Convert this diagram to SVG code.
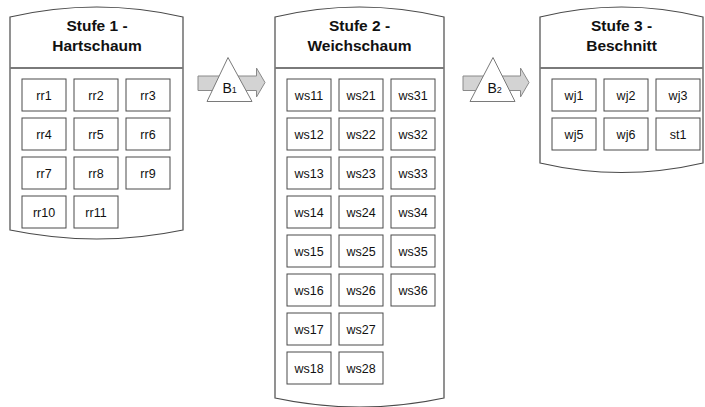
<svg xmlns="http://www.w3.org/2000/svg" width="705" height="407" viewBox="0 0 705 407">
  <defs>
    <style>
      .stage { fill: #ffffff; stroke: #4a4a4a; stroke-width: 1.2; }
      .divider { stroke: #7a7a7a; stroke-width: 2; }
      .title { font-family: "Liberation Sans", Arial, sans-serif; font-size: 15.5px; font-weight: bold; fill: #111; text-anchor: middle; }
      .box rect { fill: #ffffff; stroke: #4a4a4a; stroke-width: 1; }
      .box text { font-family: "Liberation Sans", Arial, sans-serif; font-size: 12.5px; fill: #111; text-anchor: middle; }
      .band { fill: #d3d3d3; stroke: #8a8a8a; stroke-width: 1; }
      .tri { fill: #ffffff; stroke: #7a7a7a; stroke-width: 1; }
      .blabel { font-family: "Liberation Sans", Arial, sans-serif; font-size: 14px; fill: #111; }
    </style>
  </defs>

  <!-- Stage 1 -->
  <g id="stufe1">
    <path class="stage" d="M10,17 Q97,-3 183,17 L183,230 Q97,248 10,230 Z"/>
    <line class="divider" x1="10" y1="68" x2="183" y2="68"/>
    <text class="title" x="97" y="31">Stufe 1 -</text>
    <text class="title" x="97" y="51">Hartschaum</text>
  </g>
  <g id="rr1" class="box"><rect x="22" y="79" width="44" height="32"/><text x="44" y="99.5">rr1</text></g>
  <g id="rr2" class="box"><rect x="74" y="79" width="44" height="32"/><text x="96" y="99.5">rr2</text></g>
  <g id="rr3" class="box"><rect x="126" y="79" width="44" height="32"/><text x="148" y="99.5">rr3</text></g>
  <g id="rr4" class="box"><rect x="22" y="118" width="44" height="32"/><text x="44" y="138.5">rr4</text></g>
  <g id="rr5" class="box"><rect x="74" y="118" width="44" height="32"/><text x="96" y="138.5">rr5</text></g>
  <g id="rr6" class="box"><rect x="126" y="118" width="44" height="32"/><text x="148" y="138.5">rr6</text></g>
  <g id="rr7" class="box"><rect x="22" y="157" width="44" height="32"/><text x="44" y="177.5">rr7</text></g>
  <g id="rr8" class="box"><rect x="74" y="157" width="44" height="32"/><text x="96" y="177.5">rr8</text></g>
  <g id="rr9" class="box"><rect x="126" y="157" width="44" height="32"/><text x="148" y="177.5">rr9</text></g>
  <g id="rr10" class="box"><rect x="22" y="196" width="44" height="32"/><text x="44" y="216.5">rr10</text></g>
  <g id="rr11" class="box"><rect x="74" y="196" width="44" height="32"/><text x="96" y="216.5">rr11</text></g>

  <!-- Stage 2 -->
  <g id="stufe2">
    <path class="stage" d="M275,17 Q359.5,-3 444,17 L444,398 Q359.5,416 275,398 Z"/>
    <line class="divider" x1="275" y1="68" x2="444" y2="68"/>
    <text class="title" x="359.5" y="31">Stufe 2 -</text>
    <text class="title" x="359.5" y="51">Weichschaum</text>
  </g>
  <g id="ws11" class="box"><rect x="287" y="79" width="44" height="32"/><text x="309" y="99.5">ws11</text></g>
  <g id="ws21" class="box"><rect x="339" y="79" width="44" height="32"/><text x="361" y="99.5">ws21</text></g>
  <g id="ws31" class="box"><rect x="391" y="79" width="44" height="32"/><text x="413" y="99.5">ws31</text></g>
  <g id="ws12" class="box"><rect x="287" y="118" width="44" height="32"/><text x="309" y="138.5">ws12</text></g>
  <g id="ws22" class="box"><rect x="339" y="118" width="44" height="32"/><text x="361" y="138.5">ws22</text></g>
  <g id="ws32" class="box"><rect x="391" y="118" width="44" height="32"/><text x="413" y="138.5">ws32</text></g>
  <g id="ws13" class="box"><rect x="287" y="157" width="44" height="32"/><text x="309" y="177.5">ws13</text></g>
  <g id="ws23" class="box"><rect x="339" y="157" width="44" height="32"/><text x="361" y="177.5">ws23</text></g>
  <g id="ws33" class="box"><rect x="391" y="157" width="44" height="32"/><text x="413" y="177.5">ws33</text></g>
  <g id="ws14" class="box"><rect x="287" y="196" width="44" height="32"/><text x="309" y="216.5">ws14</text></g>
  <g id="ws24" class="box"><rect x="339" y="196" width="44" height="32"/><text x="361" y="216.5">ws24</text></g>
  <g id="ws34" class="box"><rect x="391" y="196" width="44" height="32"/><text x="413" y="216.5">ws34</text></g>
  <g id="ws15" class="box"><rect x="287" y="235" width="44" height="32"/><text x="309" y="255.5">ws15</text></g>
  <g id="ws25" class="box"><rect x="339" y="235" width="44" height="32"/><text x="361" y="255.5">ws25</text></g>
  <g id="ws35" class="box"><rect x="391" y="235" width="44" height="32"/><text x="413" y="255.5">ws35</text></g>
  <g id="ws16" class="box"><rect x="287" y="274" width="44" height="32"/><text x="309" y="294.5">ws16</text></g>
  <g id="ws26" class="box"><rect x="339" y="274" width="44" height="32"/><text x="361" y="294.5">ws26</text></g>
  <g id="ws36" class="box"><rect x="391" y="274" width="44" height="32"/><text x="413" y="294.5">ws36</text></g>
  <g id="ws17" class="box"><rect x="287" y="313" width="44" height="32"/><text x="309" y="333.5">ws17</text></g>
  <g id="ws27" class="box"><rect x="339" y="313" width="44" height="32"/><text x="361" y="333.5">ws27</text></g>
  <g id="ws18" class="box"><rect x="287" y="352" width="44" height="32"/><text x="309" y="372.5">ws18</text></g>
  <g id="ws28" class="box"><rect x="339" y="352" width="44" height="32"/><text x="361" y="372.5">ws28</text></g>

  <!-- Stage 3 -->
  <g id="stufe3">
    <path class="stage" d="M540,17 Q621.5,-3 703,17 L703,163 Q621.5,182 540,163 Z"/>
    <line class="divider" x1="540" y1="68" x2="703" y2="68"/>
    <text class="title" x="621.5" y="31">Stufe 3 -</text>
    <text class="title" x="621.5" y="51">Beschnitt</text>
  </g>
  <g id="wj1" class="box"><rect x="552" y="79" width="44" height="32"/><text x="574" y="99.5">wj1</text></g>
  <g id="wj2" class="box"><rect x="604" y="79" width="44" height="32"/><text x="626" y="99.5">wj2</text></g>
  <g id="wj3" class="box"><rect x="656" y="79" width="44" height="32"/><text x="678" y="99.5">wj3</text></g>
  <g id="wj5" class="box"><rect x="552" y="118" width="44" height="32"/><text x="574" y="138.5">wj5</text></g>
  <g id="wj6" class="box"><rect x="604" y="118" width="44" height="32"/><text x="626" y="138.5">wj6</text></g>
  <g id="st1" class="box"><rect x="656" y="118" width="44" height="32"/><text x="678" y="138.5">st1</text></g>

  <!-- Transfer arrows between stages -->
  <g id="connectors">
    <g id="b1">
      <path class="band" d="M198,76 L256.5,76 L256.5,68 L265,82.5 L256.5,97 L256.5,90.5 L198,90.5 Z"/>
      <path class="tri" d="M228,57.5 L252,101.5 L207,101.5 Z"/>
      <text class="blabel" x="222.5" y="92.5">B<tspan font-size="9" dy="0.5">1</tspan></text>
    </g>
    <g id="b2">
      <path class="band" d="M463,76 L520.5,76 L520.5,68 L529,82.5 L520.5,97 L520.5,90.5 L463,90.5 Z"/>
      <path class="tri" d="M493,57.5 L515,101.5 L470,101.5 Z"/>
      <text class="blabel" x="487.5" y="92.5">B<tspan font-size="9" dy="0.5">2</tspan></text>
    </g>
  </g>
</svg>
